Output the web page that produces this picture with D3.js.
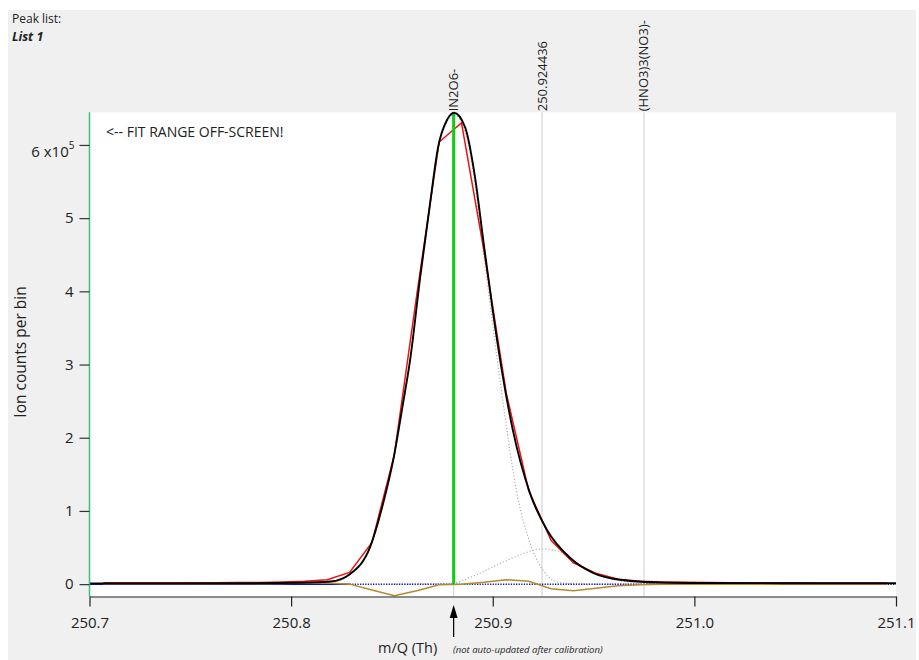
<!DOCTYPE html>
<html>
<head>
<meta charset="utf-8">
<script src="https://cdn.jsdelivr.net/npm/d3@7"></script>
<style>
body { margin: 0; background: #fff; }
text { font-family: "Open Sans", "Noto Sans", sans-serif; fill: #222; }
</style>
</head>
<body>
<div id="chart"></div>
<script>

// binned spectrum (red)
var binMass = [250.7068, 250.7179, 250.7290, 250.7401, 250.7512, 250.7623, 250.7734, 250.7845,
	250.7957, 250.8068, 250.8179, 250.8290, 250.8401, 250.8512, 250.8623, 250.8734, 250.8845,
	250.8956, 250.9067, 250.9178, 250.9289, 250.9400, 250.9511, 250.9622, 250.9733, 250.9845,
	250.9956, 251.0067, 251.0178, 251.0289, 251.0400, 251.0512, 251.0623, 251.0734, 251.0845, 251.0956];
var binCounts = [1800, 1800, 1900, 1900, 2000, 2000, 2100, 2300,
	2800, 3800, 5900, 16000, 57000, 177000, 395000, 604000, 630000,
	456000, 261000, 128000, 60000, 29000, 15000, 6800, 3800, 3000,
	2500, 2200, 2000, 1900, 1800, 1800, 1700, 1700, 1700, 1700];
var residual = [500, 500, 500, 500, 500, 500, 500, 500,
	700, 1500, 1500, 0, -8000, -16000, -9000, -1000, 0,
	2500, 6000, 4000, -6400, -9000, -5700, -2300, -1000, -300,
	0, 0, 0, 0, 0, 0, 0, 0, 0, 0];

// total fit (black)
var fitMass = [250.700, 250.780, 250.8045, 250.8194, 250.8293, 250.8392, 250.8456, 250.8506,
	250.8555, 250.8590, 250.8640, 250.8689, 250.8729, 250.8773, 250.8808, 250.8863, 250.8912,
	250.8952, 250.9001, 250.9051, 250.9100, 250.9185, 250.9269, 250.9383, 250.9497, 250.9631,
	250.9829, 251.0028, 251.100];
var fitCounts = [1000, 1200, 1800, 3500, 14000, 51000, 110000, 169000,
	247000, 306000, 419000, 520000, 597000, 634000, 644000, 624000, 556000,
	472000, 372000, 282000, 210000, 124000, 74000, 36000, 15500, 6000,
	2200, 1500, 1100];

// single peak components (grey dotted)
var mainPeakMass = [250.780, 250.8045, 250.8194, 250.8293, 250.8392, 250.8456, 250.8506, 250.8555,
	250.8590, 250.8640, 250.8689, 250.8729, 250.8773, 250.8808, 250.8863, 250.8912, 250.8952,
	250.9001, 250.9051, 250.9120, 250.9185, 250.9249, 250.9333, 250.9432, 250.9532, 250.980];
var mainPeakCounts = [0, 1000, 2500, 13000, 50000, 109000, 168000, 246000,
	304000, 417000, 518000, 594000, 631000, 641000, 618000, 546000, 458000,
	352000, 248000, 124000, 56000, 19000, 2000, 300, 0, 0];
var sidePeakMass = [250.850, 250.8700, 250.8808, 250.8912, 250.9036, 250.9135, 250.9244, 250.9333,
	250.9447, 250.9532, 250.9616, 250.9730, 250.9830, 251.000];
var sidePeakCounts = [0, 500, 2000, 12000, 28000, 40000, 48000, 44000,
	23000, 12000, 5500, 1500, 300, 0];

// baseline (blue)
var baseMass = [250.700, 250.829, 251.100];
var baseCounts = [-300, -300, -300];

var peakNames = ['IN2O6-', '250.924436', '(HNO3)3(NO3)-'];
var peakMass = [250.8806, 250.924436, 250.9750];
var selectedHeight = 644000;

var xTicks = [250.7, 250.8, 250.9, 251.0, 251.1];
var xTickLabels = ['250.7', '250.8', '250.9', '251.0', '251.1'];
var yTicks = [0, 100000, 200000, 300000, 400000, 500000, 600000];
var yTickLabels = ['0', '1', '2', '3', '4', '5', '6 x10'];

function zip(m, c) {
	var out = [];
	for (var i = 0; i < m.length; i++) out.push({m: m[i], c: c[i]});
	return out;
}

function createChart() {

	var svgWidth = 919;
	var svgHeight = 660;
	var left = 89.5, right = 896, top = 112.3, bottom = 596.5;

	var svg = d3.select('#chart').append('svg')
		.attr('width', svgWidth)
		.attr('height', svgHeight);

	svg.append('rect').attr('x', 8).attr('y', 10).attr('width', 908).attr('height', 650).style('fill', '#f0f0f0');
	svg.append('rect').attr('x', left).attr('y', top).attr('width', right - left).attr('height', bottom - top).style('fill', '#fff');

	var x = d3.scaleLinear().domain([250.7, 251.1]).range([left, right]);
	var y = d3.scaleLinear().domain([-16900, 644600]).range([bottom, top]);

	var line = d3.line().x(function(d) { return x(d.m); }).y(function(d) { return y(d.c); });
	var smooth = d3.line().x(function(d) { return x(d.m); }).y(function(d) { return y(d.c); }).curve(d3.curveMonotoneX);

	var plot = svg.append('g');

	// peak position markers
	plot.selectAll('.peakline').data(peakMass).enter().append('line')
		.attr('class', 'peakline')
		.attr('x1', function(d) { return x(d); }).attr('x2', function(d) { return x(d); })
		.attr('y1', top).attr('y2', bottom)
		.style('stroke', '#d4d4d4').style('stroke-width', 1.2);

	plot.append('path').datum(zip(mainPeakMass, mainPeakCounts)).attr('d', smooth)
		.style('fill', 'none').style('stroke', '#b0b0b0').style('stroke-width', 1.2).style('stroke-dasharray', '1.2,2');
	plot.append('path').datum(zip(sidePeakMass, sidePeakCounts)).attr('d', smooth)
		.style('fill', 'none').style('stroke', '#b8b8b8').style('stroke-width', 1.2).style('stroke-dasharray', '1.2,2');

	var base = zip(baseMass, baseCounts);
	plot.append('path').datum(base.slice(0, 2)).attr('d', line)
		.style('fill', 'none').style('stroke', '#1010c8').style('stroke-width', 1.5);
	plot.append('path').datum(base.slice(1)).attr('d', line)
		.style('fill', 'none').style('stroke', '#1818d0').style('stroke-width', 1.5).style('stroke-dasharray', '1.3,1.3');

	plot.append('path').datum(zip(binMass, residual)).attr('d', line)
		.style('fill', 'none').style('stroke', '#b5892a').style('stroke-width', 1.5);

	plot.append('path').datum(zip(binMass, binCounts)).attr('d', line)
		.style('fill', 'none').style('stroke', '#ee1111').style('stroke-width', 1.5);

	plot.append('line')
		.attr('x1', x(peakMass[0])).attr('x2', x(peakMass[0]))
		.attr('y1', y(0)).attr('y2', y(selectedHeight))
		.style('stroke', '#11cc11').style('stroke-width', 3);

	plot.append('path').datum(zip(fitMass, fitCounts)).attr('d', smooth)
		.style('fill', 'none').style('stroke', '#000').style('stroke-width', 1.9);

	// left spine
	svg.append('line').attr('x1', left).attr('x2', left).attr('y1', top).attr('y2', bottom)
		.style('stroke', '#35c27d').style('stroke-width', 1.5);

	// axes
	var xAxis = d3.axisBottom(x).tickValues(xTicks)
		.tickFormat(function(d, i) { return xTickLabels[i]; })
		.tickSize(10).tickSizeOuter(0).tickPadding(11);
	var gx = svg.append('g').attr('transform', 'translate(0,' + bottom + ')').call(xAxis);
	gx.selectAll('text').style('font-size', '15px').style('fill', '#222').style('font-family', '"Open Sans", sans-serif');
	gx.selectAll('line').style('stroke', '#222').style('stroke-width', 1.2);
	gx.select('.domain').style('stroke', '#222').style('stroke-width', 1.2);

	var yAxis = d3.axisLeft(y).tickValues(yTicks)
		.tickFormat(function(d, i) { return yTickLabels[i]; })
		.tickSize(10).tickPadding(6);
	var gy = svg.append('g').attr('transform', 'translate(' + left + ',0)').call(yAxis);
	gy.select('.domain').remove();
	gy.selectAll('text').style('font-size', '15px').style('fill', '#222').style('font-family', '"Open Sans", sans-serif');
	gy.selectAll('line').style('stroke', '#333').style('stroke-width', 1.2);
	var topLabel = gy.selectAll('.tick text').filter(function(d) { return d == 600000; });
	topLabel.attr('dy', '0.75em').attr('x', -15);
	topLabel.append('tspan').attr('dy', -8).style('font-size', '10px').text('5');

	// peak names
	svg.selectAll('.peakname').data(peakMass).enter().append('text')
		.attr('class', 'peakname')
		.attr('transform', function(d) { return 'translate(' + (x(d) + 4.5) + ',' + (top - 1) + ') rotate(-90)'; })
		.style('font-size', '13px')
		.text(function(d, i) { return peakNames[i]; });

	// texts
	svg.append('text').attr('x', 12).attr('y', 23).style('font-size', '12px').text('Peak list:');
	svg.append('text').attr('x', 12).attr('y', 41).style('font-size', '12.5px').style('font-weight', 'bold').style('font-style', 'italic').text('List 1');
	svg.append('text').attr('x', 106).attr('y', 137).style('font-size', '14px').text('<-- FIT RANGE OFF-SCREEN!');

	svg.append('text').attr('transform', 'translate(26,352) rotate(-90)').style('text-anchor', 'middle')
		.style('font-size', '15.5px').text('Ion counts per bin');

	svg.append('text').attr('x', 378).attr('y', 653).style('font-size', '14.5px').text('m/Q (Th)');
	svg.append('text').attr('x', 453).attr('y', 653).style('font-size', '9.5px').style('font-style', 'italic').text('(not auto-updated after calibration)');

	// calibration arrow
	var ax = x(peakMass[0]);
	svg.append('line').attr('x1', ax).attr('x2', ax).attr('y1', 615).attr('y2', 637).style('stroke', '#000').style('stroke-width', 1.2);
	svg.append('path').attr('d', 'M' + ax + ',605L' + (ax - 4) + ',618L' + (ax + 4) + ',618Z').style('fill', '#000');
}

createChart();
</script>
</body>
</html>
